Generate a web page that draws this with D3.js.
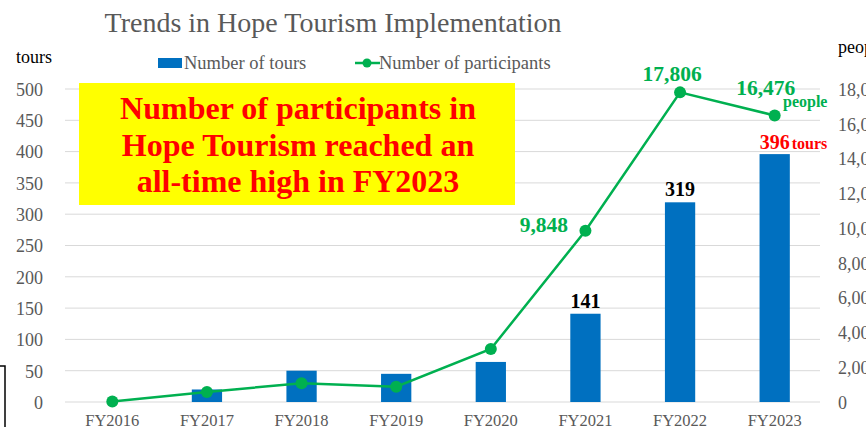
<!DOCTYPE html>
<html>
<head>
<meta charset="utf-8">
<script src="https://cdn.jsdelivr.net/npm/d3@7"></script>
<style>
  body { margin: 0; background: #fff; }
  svg { font-family: "Liberation Serif", "Times New Roman", serif; }
</style>
</head>
<body>
<div id="chart"></div>
<script>
var years = ["FY2016", "FY2017", "FY2018", "FY2019", "FY2020", "FY2021", "FY2022", "FY2023"];
var tours = [0, 20, 50, 45, 64, 141, 319, 396];
var participants = [30, 580, 1080, 880, 3050, 9848, 17806, 16476];
var tourTicks = [0, 50, 100, 150, 200, 250, 300, 350, 400, 450, 500];
var peopleTicks = [0, 2000, 4000, 6000, 8000, 10000, 12000, 14000, 16000, 18000];

var svgWidth = 866, svgHeight = 427;
var grey = "#595959", blue = "#0070C0", green = "#00B050";

var svg = d3.select("#chart").append("svg")
  .attr("width", svgWidth)
  .attr("height", svgHeight);

var x = d3.scaleBand().domain(years).range([65, 822]).paddingInner(0.68).paddingOuter(0.34);
var yL = d3.scaleLinear().domain([0, 500]).range([402, 89]);
var yR = d3.scaleLinear().domain([0, 18000]).range([402, 89]);
var cx = function (d) { return x(d) + x.bandwidth() / 2; };

// gridlines
svg.append("g").selectAll("line")
  .data(tourTicks)
  .enter().append("line")
  .attr("x1", 65).attr("x2", 820)
  .attr("y1", d => yL(d)).attr("y2", d => yL(d))
  .attr("stroke", "#d9d9d9").attr("stroke-width", 1);

// left axis
var left = svg.append("g")
  .attr("transform", "translate(49,0)")
  .call(d3.axisLeft(yL).tickValues(tourTicks).tickSize(0).tickPadding(6));
left.select(".domain").remove();
left.selectAll("text").attr("font-size", 18).attr("fill", grey).attr("font-family", "Liberation Serif").attr("dy", "0.35em");

// right axis
var right = svg.append("g")
  .attr("transform", "translate(832,0)")
  .call(d3.axisRight(yR).tickValues(peopleTicks).tickSize(0).tickPadding(6).tickFormat(d3.format(",")));
right.select(".domain").remove();
right.selectAll("text").attr("font-size", 18).attr("fill", grey).attr("font-family", "Liberation Serif").attr("dy", "0.35em");

// x axis
var bottom = svg.append("g")
  .attr("transform", "translate(0,409)")
  .call(d3.axisBottom(x).tickSize(0).tickPadding(5));
bottom.select(".domain").remove();
bottom.selectAll("text").attr("font-size", 16.5).attr("fill", grey).attr("font-family", "Liberation Serif");

// bars
svg.selectAll("rect.bar")
  .data(years)
  .enter().append("rect")
  .attr("class", "bar")
  .attr("x", d => x(d))
  .attr("width", x.bandwidth())
  .attr("y", (d, i) => yL(tours[i]))
  .attr("height", (d, i) => yL(0) - yL(tours[i]))
  .attr("fill", blue);

// line
var line = d3.line()
  .x((d, i) => cx(years[i]))
  .y(d => yR(d));
svg.append("path")
  .datum(participants)
  .attr("d", line)
  .attr("fill", "none")
  .attr("stroke", green)
  .attr("stroke-width", 2.5);
svg.selectAll("circle.pt")
  .data(participants)
  .enter().append("circle")
  .attr("class", "pt")
  .attr("cx", (d, i) => cx(years[i]))
  .attr("cy", d => yR(d))
  .attr("r", 6)
  .attr("fill", green);

// title
svg.append("text")
  .attr("x", 333).attr("y", 32)
  .attr("text-anchor", "middle")
  .attr("font-size", 28).attr("fill", grey)
  .text("Trends in Hope Tourism Implementation");

// axis unit labels
svg.append("text").attr("x", 16).attr("y", 63).attr("font-size", 18).attr("fill", "#000").text("tours");
svg.append("text").attr("x", 838).attr("y", 53).attr("font-size", 18).attr("fill", "#000").text("people");

// legend
svg.append("rect").attr("x", 158).attr("y", 58).attr("width", 24).attr("height", 10).attr("fill", blue);
svg.append("text").attr("x", 184).attr("y", 69).attr("font-size", 18.5).attr("fill", grey).text("Number of tours");
svg.append("line").attr("x1", 355).attr("x2", 380).attr("y1", 63).attr("y2", 63).attr("stroke", green).attr("stroke-width", 2.5);
svg.append("circle").attr("cx", 367).attr("cy", 63).attr("r", 4.5).attr("fill", green);
svg.append("text").attr("x", 379).attr("y", 69).attr("font-size", 18.5).attr("fill", grey).text("Number of participants");

// yellow callout
svg.append("rect").attr("x", 79).attr("y", 83).attr("width", 436).attr("height", 122).attr("fill", "#FFFF00");
var callout = ["Number of participants in", "Hope Tourism reached an", "all-time high in FY2023"];
svg.selectAll("text.callout")
  .data(callout)
  .enter().append("text")
  .attr("class", "callout")
  .attr("x", 298)
  .attr("y", (d, i) => 119 + i * 36.5)
  .attr("text-anchor", "middle")
  .attr("font-size", 32).attr("font-weight", "bold").attr("fill", "#FF0000")
  .text(d => d);

// data labels for bars
[5, 6].forEach(function (i) {
  svg.append("text")
    .attr("x", cx(years[i])).attr("y", yL(tours[i]) - 6)
    .attr("text-anchor", "middle")
    .attr("font-size", 20).attr("font-weight", "bold").attr("fill", "#000")
    .text(tours[i]);
});
var lab396 = svg.append("text")
  .attr("x", cx(years[7]) - 15).attr("y", yL(tours[7]) - 5)
  .attr("font-weight", "bold").attr("fill", "#FF0000");
lab396.append("tspan").attr("font-size", 20).text(tours[7]);
lab396.append("tspan").attr("font-size", 16).attr("dx", 2).text("tours");

// data labels for participants
var fmt = d3.format(",");
svg.append("text")
  .attr("x", 568).attr("y", yR(participants[5]) + 1)
  .attr("text-anchor", "end")
  .attr("font-size", 21.5).attr("font-weight", "bold").attr("fill", green)
  .text(fmt(participants[5]));
svg.append("text")
  .attr("x", cx(years[6]) - 8).attr("y", yR(participants[6]) - 11)
  .attr("text-anchor", "middle")
  .attr("font-size", 21.5).attr("font-weight", "bold").attr("fill", green)
  .text(fmt(participants[6]));
svg.append("text")
  .attr("x", cx(years[7]) - 9).attr("y", yR(participants[7]) - 21)
  .attr("text-anchor", "middle")
  .attr("font-size", 21.5).attr("font-weight", "bold").attr("fill", green)
  .text(fmt(participants[7]));
svg.append("text")
  .attr("x", 783).attr("y", yR(participants[7]) - 9)
  .attr("font-size", 16).attr("font-weight", "bold").attr("fill", green)
  .text("people");

// cut-off frame at bottom-left
svg.append("rect").attr("x", -20).attr("y", 366).attr("width", 25).attr("height", 80)
  .attr("fill", "none").attr("stroke", "#000").attr("stroke-width", 1.5);
</script>
</body>
</html>
